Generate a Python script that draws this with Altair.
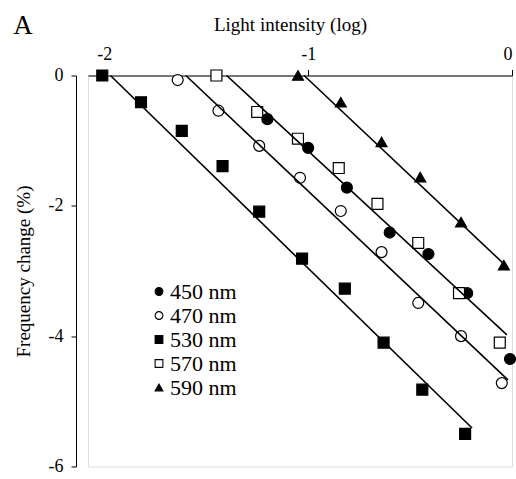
import altair as alt
import pandas as pd

FONT = "Liberation Serif"

series = ["450 nm", "470 nm", "530 nm", "570 nm", "590 nm"]
shapes = ["circle", "circle", "square", "square", "triangle-up"]
fills = ["black", "white", "black", "white", "black"]
strokes = ["black", "black", "black", "black", "black"]

x_450 = [-1.20, -1.00, -0.81, -0.60, -0.41, -0.22, -0.01]
y_450 = [-0.67, -1.11, -1.72, -2.41, -2.74, -3.34, -4.35]

x_470 = [-1.64, -1.44, -1.24, -1.04, -0.84, -0.64, -0.46, -0.25, -0.05]
y_470 = [-0.07, -0.54, -1.08, -1.57, -2.08, -2.71, -3.49, -4.00, -4.72]

x_530 = [-2.01, -1.82, -1.62, -1.42, -1.24, -1.03, -0.82, -0.63, -0.44, -0.23]
y_530 = [0.0, -0.41, -0.85, -1.39, -2.09, -2.81, -3.27, -4.10, -4.82, -5.50]

x_570 = [-1.45, -1.25, -1.05, -0.85, -0.66, -0.46, -0.26, -0.06]
y_570 = [0.0, -0.56, -0.97, -1.42, -1.97, -2.57, -3.34, -4.10]

x_590 = [-1.05, -0.84, -0.64, -0.45, -0.25, -0.04]
y_590 = [0.0, -0.41, -1.02, -1.56, -2.25, -2.91]

# fitted lines (start / end)
line_x1 = [-1.97, -1.60, -1.40, -1.02]
line_y1 = [0.0, 0.0, 0.0, 0.0]
line_x2 = [-0.196, -0.02, -0.025, -0.02]
line_y2 = [-5.41, -4.67, -3.98, -2.95]

x_ticks = [-2, -1, 0]
y_ticks = [0, -2, -4, -6]

rows = []
for name, xs, ys in zip(series, [x_450, x_470, x_530, x_570, x_590],
                        [y_450, y_470, y_530, y_570, y_590]):
    for xv, yv in zip(xs, ys):
        rows.append({"series": name, "x": xv, "y": yv})
pts = pd.DataFrame(rows)
lines = pd.DataFrame({"x1": line_x1, "y1": line_y1, "x2": line_x2, "y2": line_y2})

xscale = alt.Scale(domain=[-2.08, 0], nice=False, zero=False)
yscale = alt.Scale(domain=[-6, 0], nice=False, zero=False)

legend = alt.Legend(
    title=None, orient="none", legendX=60, legendY=205,
    labelFont=FONT, labelFontSize=22, labelColor="black",
    symbolSize=60, symbolStrokeColor="black", symbolStrokeWidth=1.1,
    rowPadding=2, labelOffset=0, padding=0,
)

points = alt.Chart(pts).mark_point(
    filled=True, strokeWidth=1.2, size=120, opacity=1
).encode(
    x=alt.X("x:Q", scale=xscale, axis=alt.Axis(
        orient="top", values=x_ticks, title="Light intensity (log)",
        labelExpr="datum.value + ''", grid=False,
        domainColor="black", tickColor="black", tickSize=6,
        labelColor="black", labelFont=FONT, labelFontSize=18, labelPadding=6,
        titleFont=FONT, titleFontSize=19, titleFontWeight="normal", titleColor="black",
        titleX=202, titleY=-45, titleBaseline="alphabetic",
    )),
    y=alt.Y("y:Q", scale=yscale, axis=alt.Axis(
        values=y_ticks, title="Frequency change (%)", offset=12,
        labelExpr="datum.value + ''", grid=False,
        domainColor="black", tickColor="black", tickSize=5,
        labelColor="black", labelFont=FONT, labelFontSize=18, labelPadding=8,
        titleFont=FONT, titleFontSize=19, titleFontWeight="normal", titleColor="black",
        titlePadding=15,
    )),
    shape=alt.Shape("series:N", scale=alt.Scale(domain=series, range=shapes), legend=legend),
    fill=alt.Fill("series:N", scale=alt.Scale(domain=series, range=fills), legend=legend),
    stroke=alt.Stroke("series:N", scale=alt.Scale(domain=series, range=strokes), legend=legend),
)

rules = alt.Chart(lines).mark_rule(color="black", strokeWidth=1.6).encode(
    x=alt.X("x1:Q", scale=xscale),
    y=alt.Y("y1:Q", scale=yscale),
    x2="x2:Q",
    y2="y2:Q",
)

label_a = alt.Chart(pd.DataFrame({"t": ["A"]})).mark_text(
    font=FONT, fontSize=27, color="black", align="center", baseline="alphabetic"
).encode(text="t:N", x=alt.value(-65), y=alt.value(-42))

chart = alt.layer(points, rules, label_a).properties(
    width=424, height=391,
    autosize=alt.AutoSizeParams(type="none"),
    padding={"left": 88, "top": 75.5, "right": 4, "bottom": 12.5},
).configure_view(stroke=None).configure(background="white")

chart.save("out.html", embed_options={"renderer": "svg", "actions": False})
